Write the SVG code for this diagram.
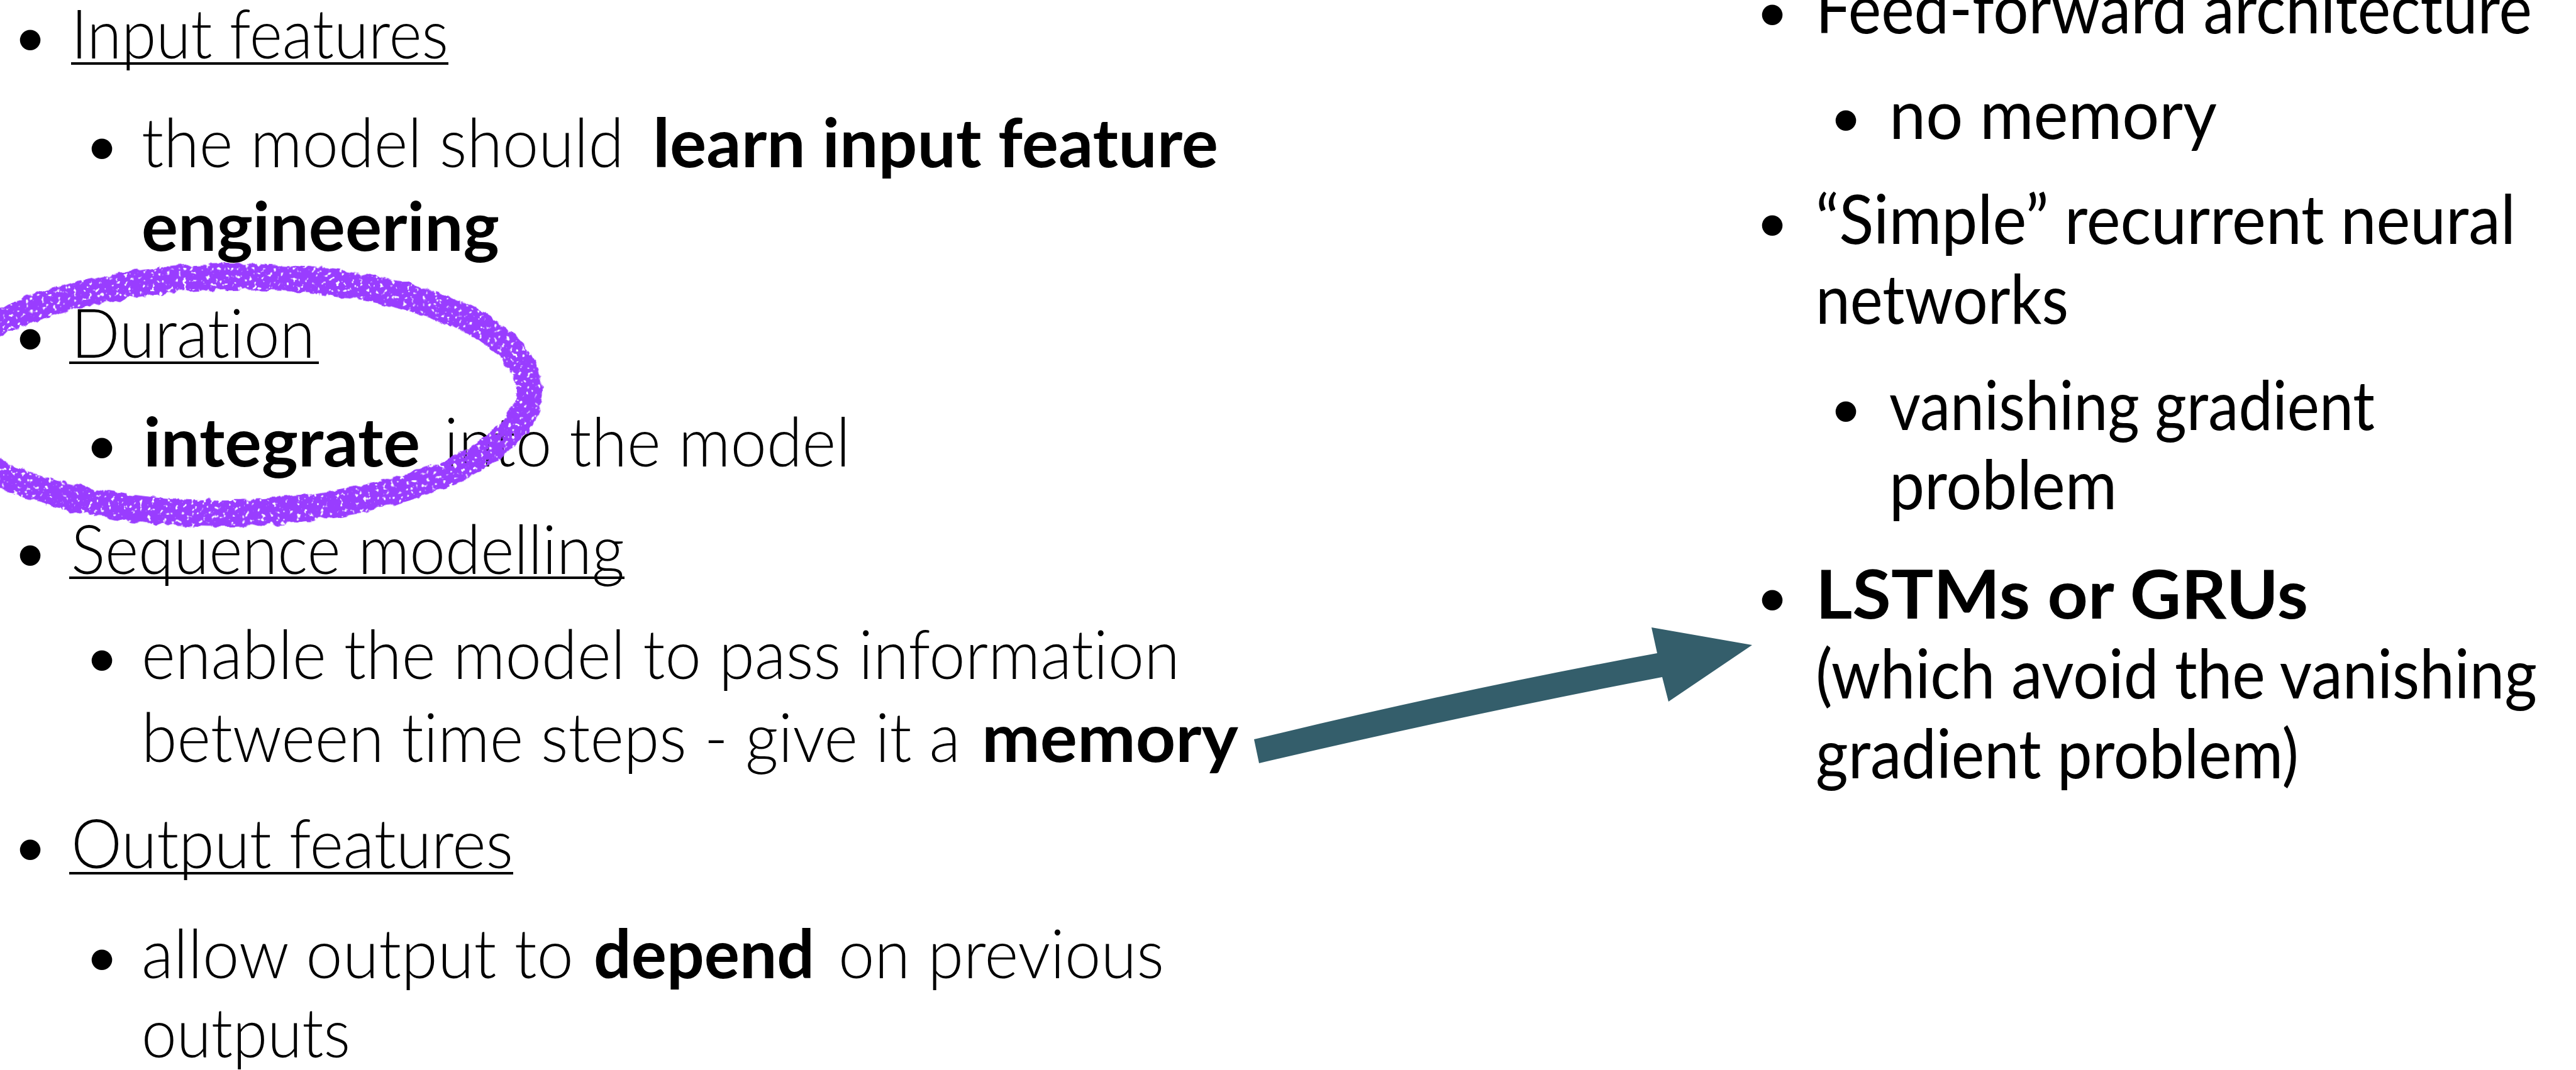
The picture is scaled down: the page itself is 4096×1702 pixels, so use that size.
<svg xmlns="http://www.w3.org/2000/svg" width="4096" height="1702" viewBox="0 0 4096 1702">
  <style>
    text { font-family: Lato, "Open Sans", "Liberation Sans", sans-serif; font-size: 108px; fill: #000; font-variant-ligatures: none; }
    .lt { font-weight: 300; }
    .b { font-weight: 700; }
    .dot { font-size: 88px; text-anchor: middle; font-weight: 400; }
    .ul { fill: #000; }
  </style>
  <defs>
    <!-- rough chalk/marker texture for the hand-drawn loop -->
    <filter id="chalk" x="-10%" y="-25%" width="120%" height="150%">
      <feTurbulence type="fractalNoise" baseFrequency="0.06" numOctaves="2" seed="4" result="warp"/>
      <feDisplacementMap in="SourceGraphic" in2="warp" scale="12" xChannelSelector="R" yChannelSelector="G" result="rough"/>
      <feTurbulence type="fractalNoise" baseFrequency="0.16" numOctaves="2" seed="9" result="grain"/>
      <feColorMatrix in="grain" type="matrix" values="0 0 0 0 0  0 0 0 0 0  0 0 0 0 0  11 0 0 0 -3.1" result="mask"/>
      <feComposite in="rough" in2="mask" operator="in"/>
    </filter>
  </defs>

  <rect width="4096" height="1702" fill="#fff"/>

  <!-- left column -->
  <g id="input-features" class="lt">
    <text class="dot" x="48" y="90">•</text>
    <text class="lt" x="113" y="93" textLength="600" lengthAdjust="spacingAndGlyphs">Input features</text>
    <rect class="ul" x="113" y="99" width="600" height="4"/>
    <text class="dot" x="162" y="263">•</text>
    <text class="lt" x="225" y="266" textLength="767" lengthAdjust="spacingAndGlyphs">the model should</text>
    <text class="b" x="1038" y="266" textLength="899" lengthAdjust="spacingAndGlyphs">learn input feature</text>
    <text class="b" x="225" y="399" textLength="569" lengthAdjust="spacingAndGlyphs">engineering</text>
  </g>

  <g id="duration">
    <text class="dot" x="48" y="566">•</text>
    <text class="lt" x="113" y="569" textLength="388" lengthAdjust="spacingAndGlyphs">Duration</text>
    <rect class="ul" x="110" y="575" width="397" height="4"/>
    <text class="dot" x="162" y="739">•</text>
    <text class="b" x="228" y="742" textLength="440" lengthAdjust="spacingAndGlyphs">integrate</text>
    <text class="lt" x="706" y="742" textLength="646" lengthAdjust="spacingAndGlyphs">into the model</text>
  </g>

  <g id="sequence-modelling">
    <text class="dot" x="48" y="910">•</text>
    <text class="lt" x="113" y="913" textLength="880" lengthAdjust="spacingAndGlyphs">Sequence modelling</text>
    <rect class="ul" x="110" y="917" width="883" height="4"/>
    <text class="dot" x="162" y="1077">•</text>
    <text class="lt" x="225" y="1080" textLength="1651" lengthAdjust="spacingAndGlyphs">enable the model to pass information</text>
    <text class="lt" x="225" y="1212" textLength="1302" lengthAdjust="spacingAndGlyphs">between time steps - give it a</text>
    <text class="b" x="1561" y="1212" textLength="408" lengthAdjust="spacingAndGlyphs">memory</text>
  </g>

  <g id="output-features">
    <text class="dot" x="48" y="1378">•</text>
    <text class="lt" x="113" y="1381" textLength="703" lengthAdjust="spacingAndGlyphs">Output features</text>
    <rect class="ul" x="110" y="1387" width="706" height="4"/>
    <text class="dot" x="162" y="1553">•</text>
    <text class="lt" x="225" y="1556" textLength="687" lengthAdjust="spacingAndGlyphs">allow output to</text>
    <text class="b" x="944" y="1556" textLength="351" lengthAdjust="spacingAndGlyphs">depend</text>
    <text class="lt" x="1333" y="1556" textLength="518" lengthAdjust="spacingAndGlyphs">on previous</text>
    <text class="lt" x="225" y="1682" textLength="332" lengthAdjust="spacingAndGlyphs">outputs</text>
  </g>

  <!-- right column -->
  <g id="feed-forward">
    <text class="dot" x="2818" y="50">•</text>
    <text x="2887" y="53" textLength="1139" lengthAdjust="spacingAndGlyphs">Feed-forward architecture</text>
    <text class="dot" x="2935" y="218">•</text>
    <text x="3004" y="221" textLength="521" lengthAdjust="spacingAndGlyphs">no memory</text>
  </g>

  <g id="simple-rnn">
    <text class="dot" x="2818" y="385">•</text>
    <text x="2887" y="388" textLength="1113" lengthAdjust="spacingAndGlyphs">“Simple” recurrent neural</text>
    <text x="2887" y="515" textLength="402" lengthAdjust="spacingAndGlyphs">networks</text>
    <text class="dot" x="2935" y="681">•</text>
    <text x="3004" y="684" textLength="772" lengthAdjust="spacingAndGlyphs">vanishing gradient</text>
    <text x="3004" y="810" textLength="362" lengthAdjust="spacingAndGlyphs">problem</text>
  </g>

  <g id="lstm-gru">
    <text class="dot" x="2818" y="981">•</text>
    <text class="b" x="2887" y="984" textLength="783" lengthAdjust="spacingAndGlyphs">LSTMs or GRUs</text>
    <text x="2887" y="1111" textLength="1147" lengthAdjust="spacingAndGlyphs">(which avoid the vanishing</text>
    <text x="2887" y="1238" textLength="768" lengthAdjust="spacingAndGlyphs">gradient problem)</text>
  </g>

  <!-- hand-drawn highlight loop around "Duration" -->
  <g id="highlight-loop">
    <ellipse cx="365" cy="628" rx="477" ry="188" transform="rotate(-1 365 628)" fill="none" stroke="#993DFF" stroke-width="42" filter="url(#chalk)"/>
  </g>

  <!-- connector: memory -> LSTMs or GRUs -->
  <g id="connectors">
    <path d="M1994 1176 Q2330 1095 2635 1039 L2626 998 L2786 1026 L2653 1116 L2643 1077 Q2340 1135 2002 1214 Z" fill="#345E6B"/>
  </g>
</svg>
